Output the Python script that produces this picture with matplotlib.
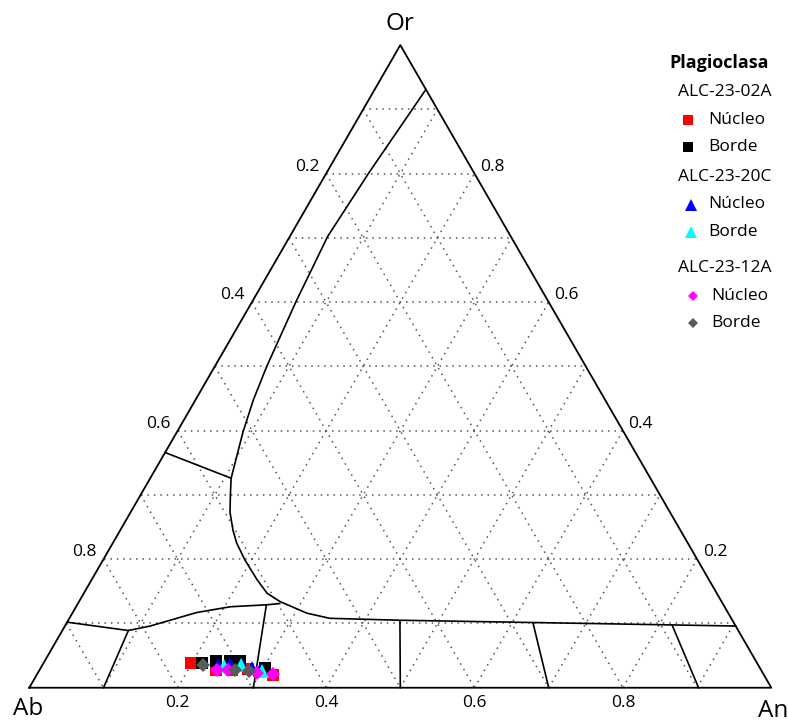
import numpy as np
import matplotlib.pyplot as plt

plt.rcParams['font.family'] = ['Open Sans', 'DejaVu Sans']

# composiciones de plagioclasa: fracciones An y Or (Ab = 1 - An - Or)
nucleo_02a_an = [0.198, 0.237, 0.259, 0.280, 0.319]
nucleo_02a_or = [0.039, 0.028, 0.028, 0.029, 0.020]
borde_02a_an = [0.214, 0.231, 0.250, 0.263, 0.302]
borde_02a_or = [0.038, 0.042, 0.042, 0.042, 0.031]

nucleo_20c_an = [0.237, 0.252, 0.269, 0.285, 0.297]
nucleo_20c_or = [0.035, 0.037, 0.035, 0.031, 0.028]
borde_20c_an = [0.246, 0.268, 0.301]
borde_20c_or = [0.034, 0.035, 0.026]

nucleo_12a_an = [0.239, 0.254, 0.295, 0.318]
nucleo_12a_or = [0.028, 0.028, 0.023, 0.021]
borde_12a_an = [0.216, 0.263, 0.283]
borde_12a_or = [0.035, 0.028, 0.026]

# limites de campos (An, Or)
solvus_an = [0.069, 0.057, 0.051, 0.059, 0.070, 0.078, 0.089, 0.109, 0.121, 0.134, 0.152,
             0.167, 0.191, 0.223, 0.247, 0.271, 0.316, 0.351, 0.447, 0.652, 0.904]
solvus_or = [0.931, 0.801, 0.702, 0.601, 0.500, 0.448, 0.398, 0.326, 0.300, 0.273, 0.245,
             0.225, 0.199, 0.168, 0.147, 0.134, 0.116, 0.108, 0.105, 0.101, 0.096]
tie_izq_an = [0.0, 0.109]
tie_izq_or = [0.366, 0.326]
inferior_an = [0.0, 0.089, 0.115, 0.167, 0.208, 0.255, 0.272]
inferior_or = [0.102, 0.089, 0.096, 0.117, 0.126, 0.129, 0.131]
# segmentos hacia la base: (An arriba, Or arriba, An base)
cortes = [(0.089, 0.089, 0.100), (0.255, 0.129, 0.302), (0.448, 0.103, 0.500),
          (0.629, 0.100, 0.700), (0.818, 0.097, 0.902)]

ticks = [0.2, 0.4, 0.6, 0.8]

S3 = np.sqrt(3) / 2


def tern(an, orr):
    an = np.asarray(an, dtype=float)
    orr = np.asarray(orr, dtype=float)
    return an + orr / 2, orr * S3


fig = plt.figure(figsize=(7.88, 7.22), dpi=100)
ax = fig.add_axes([0, 0, 1, 1])
ax.set_xlim(-0.0395, 1.0225)
ax.set_ylim(-0.0462, 0.9268)
ax.axis('off')

# malla punteada cada 0.1
grid_kw = dict(color='#555555', lw=1.1, ls=(0, (1, 3.2)), zorder=1)
for v in np.arange(1, 10) / 10:
    ax.plot(*tern([0, 1 - v], [v, v]), **grid_kw)          # Or constante
    ax.plot(*tern([v, v], [0, 1 - v]), **grid_kw)          # An constante
    ax.plot(*tern([0, 1 - v], [1 - v, 0]), **grid_kw)      # Ab constante

# triangulo
ax.plot(*tern([0, 1, 0, 0], [0, 0, 1, 0]), color='black', lw=1.3, zorder=2)

line_kw = dict(color='black', lw=1.2, zorder=2, solid_joinstyle='round')
ax.plot(*tern(solvus_an, solvus_or), **line_kw)
ax.plot(*tern(tie_izq_an, tie_izq_or), **line_kw)
ax.plot(*tern(inferior_an, inferior_or), **line_kw)
for a_top, o_top, a_base in cortes:
    ax.plot(*tern([a_top, a_base], [o_top, 0]), **line_kw)

# etiquetas de ejes
fs_tick = 12.5
for t in ticks:
    ax.annotate(f'{t:.1f}', tern(t, 0), xytext=(0, -5), textcoords='offset points',
                ha='center', va='top', fontsize=fs_tick)
    ax.annotate(f'{t:.1f}', tern(0, 1 - t), xytext=(-5, 5), textcoords='offset points',
                ha='right', va='center', fontsize=fs_tick)
    ax.annotate(f'{t:.1f}', tern(1 - t, t), xytext=(4, 5), textcoords='offset points',
                ha='left', va='center', fontsize=fs_tick)

ax.annotate('Or', tern(0, 1), xytext=(0, 15), textcoords='offset points',
            ha='center', va='center', fontsize=17.5)
ax.annotate('Ab', tern(0, 0), xytext=(-1, -15), textcoords='offset points',
            ha='center', va='center', fontsize=17.5)
ax.annotate('An', tern(1, 0), xytext=(1, -17), textcoords='offset points',
            ha='center', va='center', fontsize=17.5)

# datos
series = [
    (nucleo_02a_an, nucleo_02a_or, 's', '#ff0000', 9),
    (borde_02a_an, borde_02a_or, 's', '#000000', 9),
    (nucleo_20c_an, nucleo_20c_or, '^', '#0000ff', 9.5),
    (borde_20c_an, borde_20c_or, '^', '#00ffff', 9.5),
    (nucleo_12a_an, nucleo_12a_or, 'D', '#ff00ff', 7.5),
    (borde_12a_an, borde_12a_or, 'D', '#5a5a5a', 7.5),
]
for an, orr, m, c, ms in series:
    ax.plot(*tern(an, orr), ls='none', marker=m, color=c, ms=ms, mew=0, zorder=3)

# leyenda manual (coordenadas en pixeles)
lax = fig.add_axes([0, 0, 1, 1])
lax.set_xlim(0, 788)
lax.set_ylim(722, 0)
lax.axis('off')
lax.patch.set_alpha(0)

lax.text(719, 63, 'Plagioclasa', ha='center', va='center', fontsize=13, fontweight='bold')
grupos = [
    ('ALC-23-02A', 92, [('s', '#ff0000', 7.5, 'Núcleo'), ('s', '#000000', 7.5, 'Borde')], 688, 708),
    ('ALC-23-20C', 177, [('^', '#0000ff', 8.5, 'Núcleo'), ('^', '#00ffff', 8.5, 'Borde')], 691, 708),
    ('ALC-23-12A', 268, [('D', '#ff00ff', 5.5, 'Núcleo'), ('D', '#5a5a5a', 5.5, 'Borde')], 693, 711),
]
for nombre, y0, items, xm, xt in grupos:
    lax.text(678, y0, nombre, ha='left', va='center', fontsize=12.5)
    for i, (m, c, ms, lab) in enumerate(items):
        y = y0 + 27.5 + i * 27.5
        lax.plot(xm, y, marker=m, color=c, ms=ms, mew=0)
        lax.text(xt, y, lab, ha='left', va='center', fontsize=12.5)

fig.savefig('out.png', dpi=100)
